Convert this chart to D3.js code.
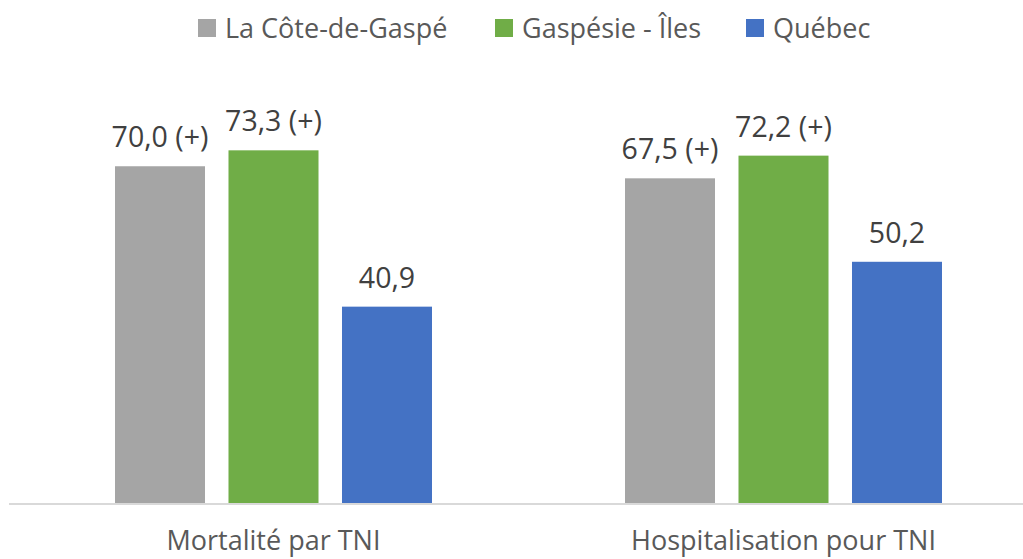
<!DOCTYPE html>
<html>
<head>
<meta charset="utf-8">
<script src="https://cdn.jsdelivr.net/npm/d3@7"></script>
<style>
  html, body { margin: 0; padding: 0; background: #ffffff; }
  svg { display: block; font-family: "Open Sans", sans-serif; }
</style>
</head>
<body>
<svg id="chart" width="1023" height="559"></svg>
<script>
// Indicator categories and series
const categories = ["Mortalité par TNI", "Hospitalisation pour TNI"];
const seriesNames = ["La Côte-de-Gaspé", "Gaspésie - Îles", "Québec"];
const seriesColors = ["#a5a5a5", "#70ad47", "#4472c4"];
// Values per series, one per category
const coteGaspe = [70.0, 67.5];
const gaspesieIles = [73.3, 72.2];
const quebec = [40.9, 50.2];
// Significance flags shown after the value
const coteGaspeFlag = ["(+)", "(+)"];
const gaspesieFlag = ["(+)", "(+)"];
const quebecFlag = ["", ""];

const seriesValues = [coteGaspe, gaspesieIles, quebec];
const seriesFlags = [coteGaspeFlag, gaspesieFlag, quebecFlag];

const svg = d3.select("#chart");
const W = 1023, H = 559;

const plotLeft = 18.5, plotRight = 1038.5;
const baseY = 504, topY = 118;

const x0 = d3.scaleBand().domain(categories).range([plotLeft, plotRight]).padding(0);
const x1 = d3.scaleBand().domain(seriesNames).range([96.5, 413.5]).paddingInner(0.207).paddingOuter(0);
const y = d3.scaleLinear().domain([0, 80]).range([baseY, topY]);

const fmt = v => d3.format(".1f")(v).replace(".", ",");

// Bars
const groups = svg.selectAll("g.cat")
  .data(categories)
  .join("g")
  .attr("class", "cat")
  .attr("transform", d => `translate(${x0(d)},0)`);

groups.each(function(cat, ci) {
  const g = d3.select(this);
  const rows = seriesNames.map((s, si) => ({
    s, si, v: seriesValues[si][ci], flag: seriesFlags[si][ci]
  }));
  g.selectAll("rect")
    .data(rows)
    .join("rect")
    .attr("x", d => x1(d.s))
    .attr("y", d => y(d.v))
    .attr("width", x1.bandwidth())
    .attr("height", d => y(0) - y(d.v))
    .attr("fill", d => seriesColors[d.si]);
  g.selectAll("text.val")
    .data(rows)
    .join("text")
    .attr("class", "val")
    .attr("x", d => x1(d.s) + x1.bandwidth() / 2)
    .attr("y", d => y(d.v) - 19)
    .attr("text-anchor", "middle")
    .attr("font-size", 28.5)
    .attr("fill", "#404040")
    .text(d => fmt(d.v) + (d.flag ? " " + d.flag : ""));
});

// Baseline axis
const xAxis = d3.axisBottom(x0).tickSize(0);
const axisG = svg.append("g")
  .attr("transform", `translate(0,${baseY})`)
  .call(xAxis);
axisG.select(".domain").attr("stroke", "#d9d9d9").attr("stroke-width", 2)
  .attr("d", `M9,0H${W}`);
axisG.selectAll(".tick text")
  .attr("font-size", 27)
  .attr("font-family", "Open Sans, sans-serif")
  .attr("fill", "#595959")
  .attr("dy", null)
  .attr("y", 46);

// Legend
const legendItems = [
  { name: seriesNames[0], color: seriesColors[0], x: 198 },
  { name: seriesNames[1], color: seriesColors[1], x: 495 },
  { name: seriesNames[2], color: seriesColors[2], x: 746 }
];
const legend = svg.append("g");
const li = legend.selectAll("g").data(legendItems).join("g")
  .attr("transform", d => `translate(${d.x},0)`);
li.append("rect").attr("x", 0).attr("y", 19).attr("width", 18).attr("height", 18)
  .attr("fill", d => d.color);
li.append("text").attr("x", 27).attr("y", 38)
  .attr("font-size", 27).attr("fill", "#595959")
  .text(d => d.name);
</script>
</body>
</html>
